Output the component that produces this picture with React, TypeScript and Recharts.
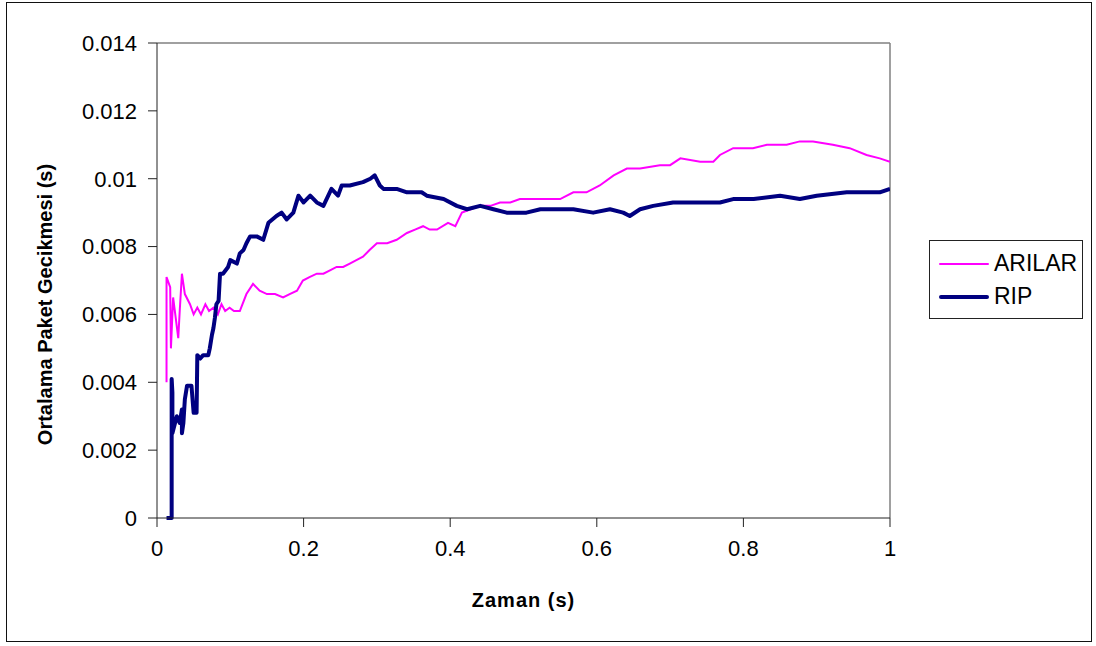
import {
  Line,
  LineChart,
  ReferenceLine,
  XAxis,
  YAxis,
} from "recharts";

type Point = { t: number; d: number };

// Ortalama paket gecikmesi, ARILAR (zaman s, gecikme s)
const arilarTime = [
  0.013, 0.013, 0.018, 0.019, 0.022, 0.029, 0.031, 0.034, 0.036, 0.038, 0.045,
  0.05, 0.055, 0.06, 0.066, 0.071, 0.077, 0.083, 0.088, 0.093, 0.099, 0.105,
  0.113, 0.122, 0.131, 0.14, 0.15, 0.161, 0.172, 0.181, 0.191, 0.199, 0.208,
  0.218, 0.227, 0.236, 0.245, 0.254, 0.263, 0.272, 0.281, 0.29, 0.3, 0.314,
  0.327, 0.341, 0.352, 0.363, 0.372, 0.382, 0.397, 0.407, 0.416, 0.428, 0.441,
  0.455, 0.468, 0.482, 0.495, 0.509, 0.523, 0.536, 0.55, 0.568, 0.586, 0.604,
  0.623, 0.641, 0.659, 0.686, 0.7, 0.714, 0.741, 0.759, 0.768, 0.786, 0.813,
  0.832, 0.859, 0.877, 0.895, 0.922, 0.945, 0.968, 0.986, 1.0,
];
const arilarDelay = [
  0.004, 0.0071, 0.0068, 0.005, 0.0065, 0.0053, 0.0061, 0.0072, 0.0069,
  0.0066, 0.0063, 0.006, 0.0062, 0.006, 0.0063, 0.0061, 0.0062, 0.006, 0.0063,
  0.0061, 0.0062, 0.0061, 0.0061, 0.0066, 0.0069, 0.0067, 0.0066, 0.0066,
  0.0065, 0.0066, 0.0067, 0.007, 0.0071, 0.0072, 0.0072, 0.0073, 0.0074,
  0.0074, 0.0075, 0.0076, 0.0077, 0.0079, 0.0081, 0.0081, 0.0082, 0.0084,
  0.0085, 0.0086, 0.0085, 0.0085, 0.0087, 0.0086, 0.009, 0.0091, 0.0092,
  0.0092, 0.0093, 0.0093, 0.0094, 0.0094, 0.0094, 0.0094, 0.0094, 0.0096,
  0.0096, 0.0098, 0.0101, 0.0103, 0.0103, 0.0104, 0.0104, 0.0106, 0.0105,
  0.0105, 0.0107, 0.0109, 0.0109, 0.011, 0.011, 0.0111, 0.0111, 0.011, 0.0109,
  0.0107, 0.0106, 0.0105,
];

// Ortalama paket gecikmesi, RIP
const ripTime = [
  0.013, 0.02, 0.02, 0.021, 0.021, 0.027, 0.031, 0.034, 0.034, 0.036, 0.038,
  0.041, 0.047, 0.05, 0.054, 0.055, 0.059, 0.063, 0.07, 0.072, 0.075, 0.077,
  0.079, 0.081, 0.084, 0.086, 0.09, 0.097, 0.1, 0.109, 0.113, 0.118, 0.122,
  0.127, 0.136, 0.145, 0.152, 0.163, 0.17, 0.177, 0.186, 0.193, 0.2, 0.209,
  0.218, 0.227, 0.238, 0.247, 0.252, 0.263, 0.281, 0.291, 0.297, 0.304, 0.309,
  0.327, 0.341, 0.354, 0.361, 0.368, 0.391, 0.409, 0.423, 0.441, 0.459, 0.477,
  0.504, 0.523, 0.541, 0.568, 0.595, 0.618, 0.636, 0.645, 0.659, 0.677, 0.704,
  0.741, 0.768, 0.786, 0.814, 0.85, 0.877, 0.9, 0.941, 0.986, 1.0,
];
const ripDelay = [
  0, 0, 0.0041, 0.0037, 0.0025, 0.003, 0.0028, 0.0032, 0.0025, 0.0028, 0.0035,
  0.0039, 0.0039, 0.0031, 0.0031, 0.0048, 0.0047, 0.0048, 0.0048, 0.005,
  0.0054, 0.0056, 0.0059, 0.0063, 0.0064, 0.0072, 0.0072, 0.0074, 0.0076,
  0.0075, 0.0078, 0.0079, 0.0081, 0.0083, 0.0083, 0.0082, 0.0087, 0.0089,
  0.009, 0.0088, 0.009, 0.0095, 0.0093, 0.0095, 0.0093, 0.0092, 0.0097,
  0.0095, 0.0098, 0.0098, 0.0099, 0.01, 0.0101, 0.0098, 0.0097, 0.0097,
  0.0096, 0.0096, 0.0096, 0.0095, 0.0094, 0.0092, 0.0091, 0.0092, 0.0091,
  0.009, 0.009, 0.0091, 0.0091, 0.0091, 0.009, 0.0091, 0.009, 0.0089, 0.0091,
  0.0092, 0.0093, 0.0093, 0.0093, 0.0094, 0.0094, 0.0095, 0.0094, 0.0095,
  0.0096, 0.0096, 0.0097,
];

const xTicks = [0, 0.2, 0.4, 0.6, 0.8, 1];
const yTicks = [0, 0.002, 0.004, 0.006, 0.008, 0.01, 0.012, 0.014];

const series = [
  { name: "ARILAR", color: "#FF00FF", width: 2 },
  { name: "RIP", color: "#000080", width: 4 },
];

const toPoints = (t: number[], d: number[]): Point[] =>
  t.map((time, i) => ({ t: time, d: d[i] }));

const arilarData = toPoints(arilarTime, arilarDelay);
const ripData = toPoints(ripTime, ripDelay);

const font = "Arial, 'Liberation Sans', sans-serif";

// legend box sits to the right of the plot, outside the chart's layout
function LegendBox() {
  return (
    <div
      style={{
        position: "absolute",
        left: 929,
        top: 240,
        width: 154,
        height: 79,
        border: "1.5px solid #222",
        boxSizing: "border-box",
        fontFamily: font,
        fontSize: 23,
        color: "#000",
        paddingTop: 6,
      }}
    >
      {series.map((s) => (
        <div key={s.name} style={{ display: "flex", alignItems: "center", height: 33 }}>
          <div
            style={{
              width: 50,
              height: s.width,
              background: s.color,
              marginLeft: 9,
              marginRight: 5,
              borderRadius: 2,
            }}
          />
          <span>{s.name}</span>
        </div>
      ))}
    </div>
  );
}

function YTitle({ viewBox }: any) {
  const cx = viewBox.x + 45;
  const cy = viewBox.y + viewBox.height / 2 + 24;
  return (
    <text
      x={cx}
      y={cy}
      transform={`rotate(-90 ${cx} ${cy})`}
      textAnchor="middle"
      dominantBaseline="central"
      fontFamily={font}
      fontWeight="bold"
      fontSize={20}
      fill="#000"
    >
      Ortalama Paket Gecikmesi (s)
    </text>
  );
}

function XTitle({ viewBox }: any) {
  const cx = viewBox.x + viewBox.width / 2;
  const cy = viewBox.y + 82;
  return (
    <text
      x={cx}
      y={cy}
      textAnchor="middle"
      dominantBaseline="central"
      fontFamily={font}
      fontWeight="bold"
      fontSize={20}
      letterSpacing={1}
      fill="#000"
    >
      Zaman (s)
    </text>
  );
}

export default function App() {
  return (
    <div
      style={{
        position: "absolute",
        left: 0,
        top: 0,
        width: 1096,
        height: 646,
        background: "#fff",
      }}
    >
      <div
        style={{
          position: "absolute",
          left: 6,
          top: 2,
          width: 1086,
          height: 640,
          border: "1.5px solid #111",
          boxSizing: "border-box",
        }}
      />
      <LineChart
        width={1096}
        height={646}
        margin={{ top: 43, right: 206, bottom: 0, left: 0 }}
        style={{ position: "absolute", left: 0, top: 0 }}
      >
        <XAxis
          type="number"
          dataKey="t"
          domain={[0, 1]}
          ticks={xTicks}
          allowDataOverflow
          height={128}
          stroke="#222"
          tickSize={9}
          tickMargin={13}
          tick={{ fill: "#000", fontSize: 22, fontFamily: font }}
          label={<XTitle />}
        />
        <YAxis
          type="number"
          dataKey="d"
          domain={[0, 0.014]}
          ticks={yTicks}
          width={157}
          stroke="#222"
          tickSize={9}
          tickMargin={11}
          tick={{ fill: "#000", fontSize: 22, fontFamily: font }}
          label={<YTitle />}
        />
        <ReferenceLine y={0.014} stroke="#808080" strokeWidth={1.5} />
        <ReferenceLine x={1} stroke="#808080" strokeWidth={1.5} />
        <Line
          data={arilarData}
          dataKey="d"
          name="ARILAR"
          type="linear"
          stroke={series[0].color}
          strokeWidth={series[0].width}
          dot={false}
          isAnimationActive={false}
        />
        <Line
          data={ripData}
          dataKey="d"
          name="RIP"
          type="linear"
          stroke={series[1].color}
          strokeWidth={series[1].width}
          strokeLinejoin="round"
          dot={false}
          isAnimationActive={false}
        />
      </LineChart>
      <LegendBox />
    </div>
  );
}
